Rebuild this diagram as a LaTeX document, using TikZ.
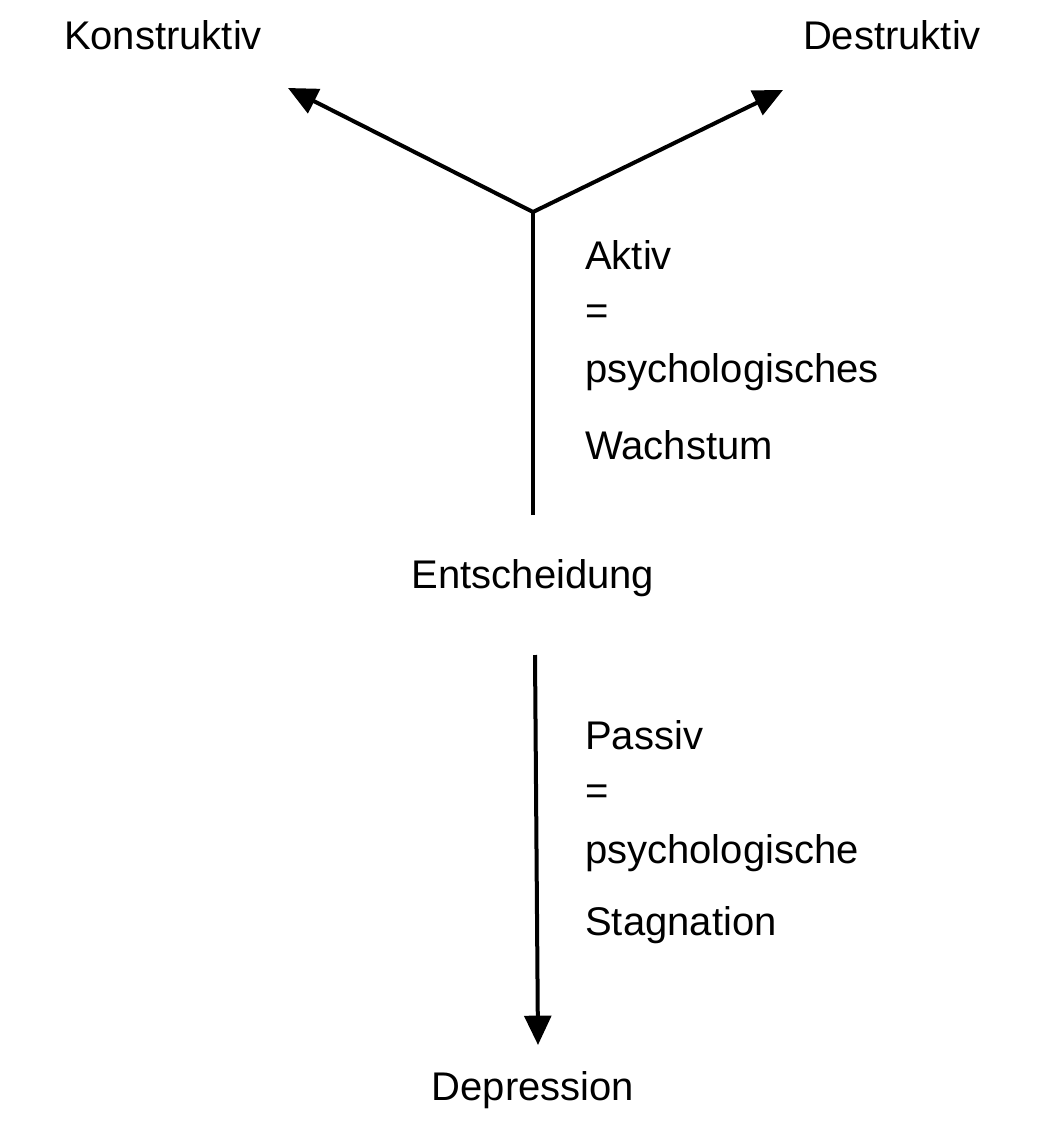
\documentclass[tikz,border=0pt]{standalone}
\usepackage{fontspec}
\setmainfont{Liberation Sans}
\usetikzlibrary{arrows.meta}
\begin{document}
\begin{tikzpicture}[x=0.75pt,y=-0.75pt,
  lbl/.style={font=\fontsize{30}{36}\selectfont, inner sep=0pt},
  side/.style={lbl, anchor=west},
  conn/.style={line width=3pt, -{Triangle[length=22pt,width=20pt]}},
  plain/.style={line width=3pt}]
\useasboundingbox (0,0) rectangle (1063,1134);
\node[lbl] (kon) at (163,35) {Konstruktiv};
\node[lbl] (des) at (892,35) {Destruktiv};
\coordinate (j) at (533,212);
\coordinate (kt) at (288,88);
\coordinate (dt) at (783,90);
\node[lbl] (ent) at (533,578) {Entscheidung};
\node[lbl] (dep) at (533,1090) {Depression};
\coordinate (vtop) at (533,515);
\coordinate (vs) at (535,655);
\coordinate (ve) at (538,1045);
\draw[conn] (j) -- (kt);
\draw[conn] (j) -- (dt);
\draw[plain] (vtop) -- (j);
\draw[conn] (vs) -- (ve);
\node[side] (a1) at (585,255) {Aktiv};
\node[side] (a2) at (585,315) {=};
\node[side] (a3) at (585,372) {psychologisches};
\node[side] (a4) at (585,445) {Wachstum};
\node[side] (p1) at (585,735) {Passiv};
\node[side] (p2) at (585,795) {=};
\node[side] (p3) at (585,853) {psychologische};
\node[side] (p4) at (585,925) {Stagnation};
\end{tikzpicture}
\end{document}
